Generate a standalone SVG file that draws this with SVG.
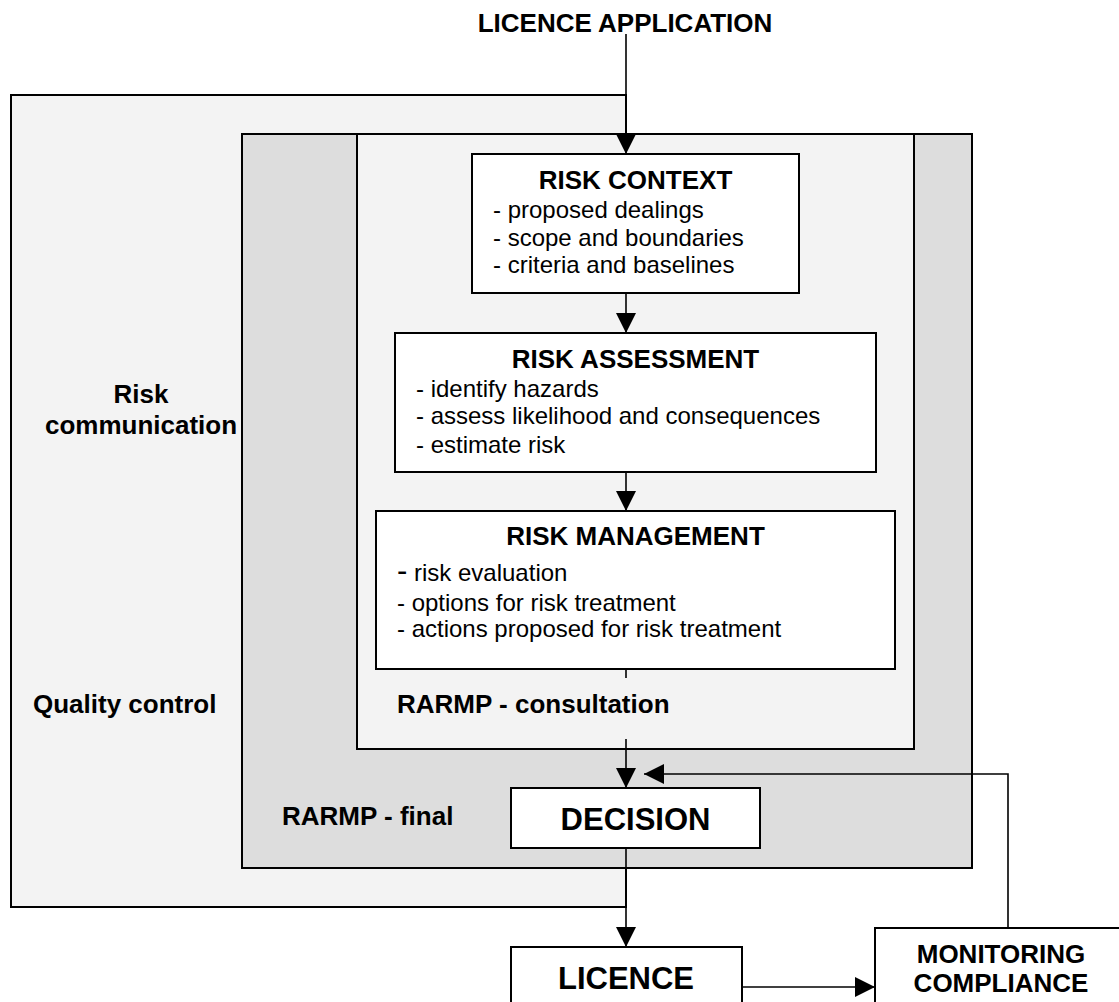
<svg xmlns="http://www.w3.org/2000/svg" width="1119" height="1002" viewBox="0 0 1119 1002">
  <style>
    text { font-family: "Liberation Sans", Arial, sans-serif; fill: #000; }
    .b { font-weight: bold; }
    .t26 { font-size: 26px; font-weight: bold; }
    .t24 { font-size: 24px; }
    .big { font-size: 31px; font-weight: bold; }
    .box { fill: #ffffff; stroke: #000; stroke-width: 2; }
    .light { fill: #f3f3f3; stroke: #000; stroke-width: 2; }
    .mid { fill: #dddddd; stroke: #000; stroke-width: 2; }
    .conn { fill: none; stroke: #000; stroke-width: 1.6; }
  </style>
  <defs>
    <marker id="arrow" markerUnits="userSpaceOnUse" markerWidth="20" markerHeight="20" refX="20" refY="10" orient="auto">
      <path d="M0,0 L20,10 L0,20 z" fill="#000"/>
    </marker>
  </defs>
  <rect width="1119" height="1002" fill="#ffffff"/>

  <g id="risk-communication-area">
    <rect class="light" x="11" y="95" width="615" height="812"/>
    <text class="t26" x="141" y="403" text-anchor="middle">Risk</text>
    <text class="t26" x="141" y="434" text-anchor="middle">communication</text>
    <text class="t26" x="33" y="713">Quality control</text>
  </g>

  <g id="rarmp-final-area">
    <rect class="mid" x="242" y="134" width="730" height="734"/>
    <text class="t26" x="282" y="825">RARMP - final</text>
  </g>

  <g id="rarmp-consultation-area">
    <rect class="light" x="357" y="134" width="557" height="615"/>
    <text class="t26" x="397" y="713">RARMP - consultation</text>
  </g>

  <g id="title">
    <text class="t26" x="625" y="32" text-anchor="middle">LICENCE APPLICATION</text>
  </g>

  <g id="risk-context">
    <rect class="box" x="472" y="154" width="327" height="139"/>
    <text class="t26" x="635.5" y="189" text-anchor="middle">RISK CONTEXT</text>
    <text class="t24" x="493" y="218">- proposed dealings</text>
    <text class="t24" x="493" y="246">- scope and boundaries</text>
    <text class="t24" x="493" y="273">- criteria and baselines</text>
  </g>

  <g id="risk-assessment">
    <rect class="box" x="395" y="333" width="481" height="139"/>
    <text class="t26" x="635.5" y="368" text-anchor="middle">RISK ASSESSMENT</text>
    <text class="t24" x="416" y="397">- identify hazards</text>
    <text class="t24" x="416" y="424">- assess likelihood and consequences</text>
    <text class="t24" x="416" y="453">- estimate risk</text>
  </g>

  <g id="risk-management">
    <rect class="box" x="376" y="511" width="519" height="158"/>
    <text class="t26" x="635.5" y="545" text-anchor="middle">RISK MANAGEMENT</text>
    <text class="t24" x="397" y="581"><tspan font-size="31">-</tspan> risk evaluation</text>
    <text class="t24" x="397" y="611">- options for risk treatment</text>
    <text class="t24" x="397" y="637">- actions proposed for risk treatment</text>
  </g>

  <g id="decision">
    <rect class="box" x="511" y="788" width="249" height="60"/>
    <text class="big" x="635.5" y="830" text-anchor="middle">DECISION</text>
  </g>

  <g id="licence">
    <rect class="box" x="511" y="947" width="231" height="80"/>
    <text class="big" x="626" y="989" text-anchor="middle">LICENCE</text>
  </g>

  <g id="monitoring-compliance">
    <rect class="box" x="875" y="928" width="270" height="100"/>
    <text class="t26" x="1001" y="963" text-anchor="middle">MONITORING</text>
    <text class="t26" x="1001" y="992" text-anchor="middle">COMPLIANCE</text>
  </g>

  <g id="connectors">
    <line class="conn" x1="626" y1="34" x2="626" y2="154" marker-end="url(#arrow)"/>
    <line class="conn" x1="626" y1="293" x2="626" y2="333" marker-end="url(#arrow)"/>
    <line class="conn" x1="626" y1="472" x2="626" y2="511" marker-end="url(#arrow)"/>
    <line class="conn" x1="626" y1="669" x2="626" y2="678"/>
    <line class="conn" x1="626" y1="739" x2="626" y2="788" marker-end="url(#arrow)"/>
    <line class="conn" x1="626" y1="848" x2="626" y2="947" marker-end="url(#arrow)"/>
    <line class="conn" x1="742" y1="987" x2="875" y2="987" marker-end="url(#arrow)"/>
    <polyline class="conn" points="1008,928 1008,774 644,774" marker-end="url(#arrow)"/>
  </g>
</svg>
